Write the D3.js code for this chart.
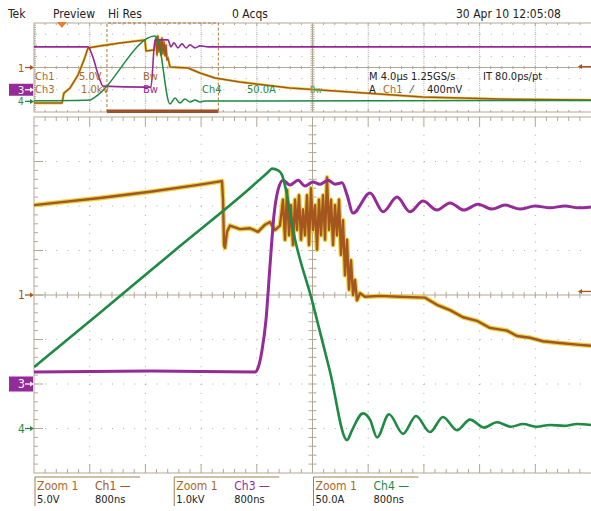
<!DOCTYPE html>
<html>
<head>
<meta charset="utf-8">
<script src="https://cdn.jsdelivr.net/npm/d3@7"></script>
<style>
  body { margin: 0; background: #fff; }
  svg { display: block; }
  text { font-family: "Liberation Sans Narrow", "Arial Narrow", "DejaVu Sans Condensed", sans-serif; font-size: 11px; }
</style>
</head>
<body>
<svg id="scope" width="591" height="511"></svg>
<script>
// ---- data ----

// overview record, time in µs (4.0 µs/div)
const ch1Full = [[0,-16.0],[2.01,-16.0],[2.15,-11.5],[2.59,-9.2],[3.16,-3.4],[3.59,3.4],[3.88,8.8],[4.74,9.7],
  [6.18,11.0],[7.97,12.4],[8.04,7.4],[8.62,7.9],[8.76,13.3],[8.83,5.6],[8.90,14.2],[8.98,7.0],[9.05,12.4],
  [9.12,5.6],[9.19,13.3],[9.26,6.1],[9.34,11.5],[9.41,5.2],[9.48,10.1],[9.55,3.4],[9.62,4.3],[9.77,0.2],
  [11.06,-0.2],[11.92,-2.5],[13.00,-4.7],[14.79,-6.5],[18.38,-9.2],[22.69,-11.0],[27.93,-13.3],[33.46,-14.2],[40,-14.6]];
const ch3Full = [[0,3.85],[3.88,3.85],[4.17,3.13],[4.74,0.87],[4.95,0.33],[8.04,0.24],[8.40,0.24],[8.69,4.48],
  [9.62,4.48],[9.84,3.85],[10.05,4.21],[10.34,3.76],[10.63,4.12],[10.92,3.76],[11.20,4.03],[11.56,3.76],
  [11.92,3.94],[12.64,3.85],[40,3.85]];
const ch4Full = [[0,0],[4.02,4],[4.38,17],[8.69,292],[8.90,274],[9.77,-14],[10.13,13],[10.48,-10],[10.84,8],
  [11.20,-5],[11.56,4],[11.92,-5],[12.28,-1],[40,2]];

// zoom 1 record, time in ns (800 ns/div)
const ch1Zoom = [[0,10.1],[948,10.9],[1666,11.6],[2384,12.4],[2700,12.8],[2715,10.7],[2729,5.6],[2743,5.3],
  [2772,7.1],[2815,7.8],[2959,7.4],[3102,7.5],[3217,7.1],[3318,7.9],[3390,8.2],[3461,7.3],[3533,7.8],
  [3576,10.7],[3605,6.2],[3634,11.8],[3663,6.7],[3691,10.1],[3720,5.6],[3749,10.7],[3777,7.3],[3806,11.2],
  [3835,6.2],[3864,9.6],[3892,6.7],[3921,11.2],[3950,5.6],[3979,12.0],[4007,7.3],[4036,10.1],[4065,5.1],
  [4093,10.7],[4122,6.7],[4151,11.2],[4180,6.2],[4208,13.2],[4237,7.3],[4266,10.7],[4295,5.6],[4323,10.1],
  [4352,6.7],[4381,10.7],[4409,4.5],[4438,8.4],[4467,2.2],[4496,6.2],[4524,0.6],[4553,3.9],[4582,0],
  [4610,1.7],[4639,-0.6],[4682,0.2],[4754,-0.2],[4970,-0.1],[5257,-0.2],[5616,-0.3],[5788,-1.1],[5975,-1.7],
  [6162,-2.5],[6363,-2.9],[6549,-3.7],[6794,-4.0],[6937,-4.6],[7124,-4.8],[7311,-5.2],[7555,-5.4],[7842,-5.6],[8000,-5.7]];
const ch3Zoom = [[0,0.27],[1666,0.29],[3174,0.27],[3217,0.36],[3275,0.76],[3332,1.44],[3390,2.67],[3447,3.80],
  [3505,4.36],[3576,4.58],[3677,4.47],[3792,4.58],[3892,4.45],[4007,4.54],[4108,4.49],[4223,4.58],[4323,4.49],
  [4424,4.52],[4496,4.25],[4582,3.84],[4826,4.29],[5013,3.87],[5214,4.20],[5400,3.87],[5587,4.11],[5788,3.91],
  [5975,4.07],[6176,3.91],[6377,4.04],[6578,3.93],[6765,4.02],[6980,3.93],[7196,4.00],[7411,3.96],[7627,4.00],
  [7813,3.96],[8000,3.98]];
const ch4Zoom = [[0,69],[948,130],[2097,205],[3102,270],[3361,288],[3418,292],[3505,290],[3562,285],[3619,268],
  [3720,223],[3993,144],[4251,64],[4496,-13],[4567,-2],[4725,17],[4826,10],[4927,-10],[5099,16],[5300,-6],
  [5487,14],[5688,-4],[5874,13],[6075,-2],[6262,10],[6463,1],[6650,7],[6851,2],[7023,5],[7225,2],[7411,4],
  [7612,3],[7799,5],[8000,4]];

// channel settings: domains cover 8 divisions, ground offsets 0 / -2 / -3 div
const ch1Domain = [-20, 20];     // 5.0 V/div
const ch3Domain = [-2, 6];       // 1.0 kV/div
const ch4Domain = [-50, 350];    // 50.0 A/div
const fullTimeDomain = [0, 40];  // µs
const zoomTimeDomain = [0, 8000]; // ns
const zoomWindow = [5.24, 13.24]; // µs, shown in the zoom
const triggerPos = 2.0;          // µs, marker on top
const triggerLevel = 0.4;        // V on Ch1

const headerLabels = ['Tek', 'Preview', 'Hi Res', '0 Acqs', '30 Apr 10 12:05:08'];
const zoomLabels = [
  {ch: 'Ch1', scale: '5.0V', time: '800ns', color: 'ch1'},
  {ch: 'Ch3', scale: '1.0kV', time: '800ns', color: 'ch3'},
  {ch: 'Ch4', scale: '50.0A', time: '800ns', color: 'ch4'}
];

// ---- drawing ----
const col = {ch1: '#a5561f', halo: '#e8d44a', ch3: '#952b98', ch4: '#1e8a43', grat: '#b3a793', dot: '#aaa', text: '#222', win: '#b0783c'};
const svg = d3.select('#scope');
svg.append('rect').attr('width', 591).attr('height', 511).attr('fill', '#fff');

const ov = {x0: 34, x1: 591, y0: 23, y1: 112};
const zm = {x0: 34, x1: 591, y0: 117, y1: 473};

function graticule(b, minorLen, majorLen) {
  const g = svg.append('g');
  const dx = (b.x1 - b.x0) / 10, dy = (b.y1 - b.y0) / 8;
  const xc = b.x0 + 5 * dx, yc = b.y0 + 4 * dy;
  for (let i = 1; i < 10; i++) {
    if (i === 5) continue;
    g.append('line').attr('x1', b.x0 + i * dx).attr('x2', b.x0 + i * dx).attr('y1', b.y0).attr('y2', b.y1)
      .attr('stroke', col.dot).attr('stroke-dasharray', `1 ${dy / 5 - 1}`);
  }
  for (let j = 1; j < 8; j++) {
    if (j === 4) continue;
    g.append('line').attr('y1', b.y0 + j * dy).attr('y2', b.y0 + j * dy).attr('x1', b.x0).attr('x2', b.x1)
      .attr('stroke', col.dot).attr('stroke-dasharray', `1 ${dx / 5 - 1}`);
  }
  g.append('line').attr('x1', xc).attr('x2', xc).attr('y1', b.y0).attr('y2', b.y1).attr('stroke', col.grat);
  g.append('line').attr('y1', yc).attr('y2', yc).attr('x1', b.x0).attr('x2', b.x1).attr('stroke', col.grat);
  // ticks on centre lines and border
  for (let k = 1; k < 50; k++) {
    const x = b.x0 + k * dx / 5, len = k % 5 === 0 ? majorLen : minorLen;
    g.append('line').attr('x1', x).attr('x2', x).attr('y1', yc - minorLen * 0.8).attr('y2', yc + minorLen * 0.8).attr('stroke', col.grat);
    g.append('line').attr('x1', x).attr('x2', x).attr('y1', b.y0).attr('y2', b.y0 + len).attr('stroke', col.grat);
    g.append('line').attr('x1', x).attr('x2', x).attr('y1', b.y1).attr('y2', b.y1 - len).attr('stroke', col.grat);
  }
  for (let k = 1; k < 40; k++) {
    const y = b.y0 + k * dy / 5, len = k % 5 === 0 ? majorLen : minorLen;
    g.append('line').attr('y1', y).attr('y2', y).attr('x1', xc - minorLen).attr('x2', xc + minorLen).attr('stroke', col.grat);
    g.append('line').attr('y1', y).attr('y2', y).attr('x1', b.x0).attr('x2', b.x0 + len).attr('stroke', col.grat);
  }
  g.append('rect').attr('x', b.x0).attr('y', b.y0).attr('width', b.x1 - b.x0 + 2).attr('height', b.y1 - b.y0)
    .attr('fill', 'none').attr('stroke', col.grat);
}

graticule(ov, 2, 3);
graticule(zm, 4, 9);

// scales
const xFull = d3.scaleLinear().domain(fullTimeDomain).range([ov.x0, ov.x1]);
const xZoom = d3.scaleLinear().domain(zoomTimeDomain).range([zm.x0, zm.x1]);
const yFull = {
  ch1: d3.scaleLinear().domain(ch1Domain).range([ov.y1, ov.y0]),
  ch3: d3.scaleLinear().domain(ch3Domain).range([ov.y1, ov.y0]),
  ch4: d3.scaleLinear().domain(ch4Domain).range([ov.y1, ov.y0])
};
const yZoom = {
  ch1: d3.scaleLinear().domain(ch1Domain).range([zm.y1, zm.y0]),
  ch3: d3.scaleLinear().domain(ch3Domain).range([zm.y1, zm.y0]),
  ch4: d3.scaleLinear().domain(ch4Domain).range([zm.y1, zm.y0])
};

const defs = svg.append('defs');
defs.append('clipPath').attr('id', 'clipOv').append('rect').attr('x', ov.x0).attr('y', ov.y0).attr('width', ov.x1 - ov.x0).attr('height', ov.y1 - ov.y0);
defs.append('clipPath').attr('id', 'clipZm').append('rect').attr('x', zm.x0).attr('y', zm.y0).attr('width', zm.x1 - zm.x0).attr('height', zm.y1 - zm.y0);

function trace(clip, data, x, y, color, width, halo, curve) {
  const line = d3.line().x(d => x(d[0])).y(d => y(d[1])).curve(curve);
  const g = svg.append('g').attr('clip-path', `url(#${clip})`);
  if (halo) {
    g.append('path').datum(data).attr('d', line).attr('fill', 'none').attr('stroke', col.halo)
      .attr('stroke-width', width + halo).attr('stroke-linejoin', 'round');
  }
  g.append('path').datum(data).attr('d', line).attr('fill', 'none').attr('stroke', color)
    .attr('stroke-width', width).attr('stroke-linejoin', 'round');
}

// zoom window in the overview
const wx0 = xFull(zoomWindow[0]), wx1 = xFull(zoomWindow[1]);
svg.append('path').attr('d', `M${wx0},${ov.y1}V${ov.y0}H${wx1}V${ov.y1}`).attr('fill', 'none')
  .attr('stroke', col.win).attr('stroke-dasharray', '3 2');

// overview traces
trace('clipOv', ch1Full, xFull, yFull.ch1, col.ch1, 1.5, 1.2, d3.curveLinear);
trace('clipOv', ch3Full, xFull, yFull.ch3, col.ch3, 1.6, 0, d3.curveMonotoneX);
trace('clipOv', ch4Full, xFull, yFull.ch4, col.ch4, 1.5, 0, d3.curveMonotoneX);

svg.append('rect').attr('x', wx0).attr('y', ov.y1 - 2.5).attr('width', wx1 - wx0).attr('height', 3.5).attr('fill', '#9c5226');

// zoom traces
trace('clipZm', ch1Zoom, xZoom, yZoom.ch1, col.ch1, 2.4, 2.4, d3.curveLinear);
trace('clipZm', ch3Zoom, xZoom, yZoom.ch3, col.ch3, 3, 0, d3.curveMonotoneX);
trace('clipZm', ch4Zoom, xZoom, yZoom.ch4, col.ch4, 2.6, 0, d3.curveMonotoneX);

// header
const headerX = [8, 53, 108, 232, 456];
headerLabels.forEach((t, i) => {
  svg.append('text').attr('x', headerX[i]).attr('y', 18).attr('fill', col.text).style('font-size', '12px').text(t);
});
const tx = xFull(triggerPos);
svg.append('path').attr('d', `M${tx - 5},${22}L${tx + 5},${22}L${tx},${28}Z`).attr('fill', '#f07b2e');

// channel markers on the left
function marker(y, label, color, boxed, size) {
  const g = svg.append('g');
  const bh = size < 12 ? 12 : 15;
  if (boxed) {
    g.append('rect').attr('x', 9).attr('y', y - bh / 2).attr('width', 24).attr('height', bh).attr('fill', color);
  }
  const c = boxed ? '#fff' : color;
  g.append('text').attr('x', 18).attr('y', y + size * 0.37).attr('fill', c).style('font-size', size + 'px').text(label);
  g.append('line').attr('x1', 25).attr('x2', 31).attr('y1', y).attr('y2', y).attr('stroke', c).attr('stroke-width', 1.3);
  g.append('path').attr('d', `M34,${y}l-4,-2.5v5z`).attr('fill', c);
}
marker(yFull.ch1(0), '1', col.ch1, false, 11);
marker(yFull.ch3(0), '3', col.ch3, true, 11);
marker(yFull.ch4(0) + 0.5, '4', col.ch4, false, 10);
marker(yZoom.ch1(0), '1', col.ch1, false, 12);
marker(yZoom.ch3(0), '3', col.ch3, true, 12);
marker(yZoom.ch4(0), '4', col.ch4, false, 12);

// trigger level markers on the right
function levelArrow(y) {
  svg.append('line').attr('x1', 582).attr('x2', 591).attr('y1', y).attr('y2', y).attr('stroke', col.ch1).attr('stroke-width', 1.3);
  svg.append('path').attr('d', `M578,${y}l4,-2.5v5z`).attr('fill', col.ch1);
}
levelArrow(yFull.ch1(triggerLevel));
levelArrow(yZoom.ch1(triggerLevel));

// readouts in overview
const lightBrown = '#a8692a';
function txt(x, y, s, color, size) {
  return svg.append('text').attr('x', x).attr('y', y).attr('fill', color).style('font-size', (size || 11) + 'px').text(s);
}
txt(35, 80, 'Ch1', lightBrown);
txt(79, 80, '5.0V', lightBrown);
txt(143, 80, 'Bw', lightBrown);
txt(35, 93, 'Ch3', lightBrown);
txt(81, 93, '1.0kV', lightBrown);
txt(143, 93, 'Bw', col.ch3);
txt(202, 93, 'Ch4', col.ch4);
txt(247, 93, '50.0A', col.ch4);
txt(310, 93, 'Bw', '#5aa86a', 9);
txt(369, 80, 'M 4.0µs 1.25GS/s', col.text);
txt(483, 80, 'IT 80.0ps/pt', col.text);
txt(369, 93, 'A', col.text);
txt(383, 93, 'Ch1', lightBrown);
txt(411, 93, '⁄', col.text);
txt(427, 93, '400mV', col.text);

// zoom readouts below
const dxDiv = (zm.x1 - zm.x0) / 10;
zoomLabels.forEach((l, i) => {
  const x = zm.x0 + 1 + i * 2.5 * dxDiv;
  svg.append('path').attr('d', `M${x},506V477H${x + 105}`).attr('fill', 'none').attr('stroke', '#a08050');
  txt(x + 2, 490, 'Zoom 1', lightBrown, 12);
  txt(x + 60, 490, l.ch + ' —', col[l.color], 12);
  txt(x + 2, 503, l.scale, col.text, 11);
  txt(x + 60, 503, l.time, col.text, 11);
});
</script>
</body>
</html>
